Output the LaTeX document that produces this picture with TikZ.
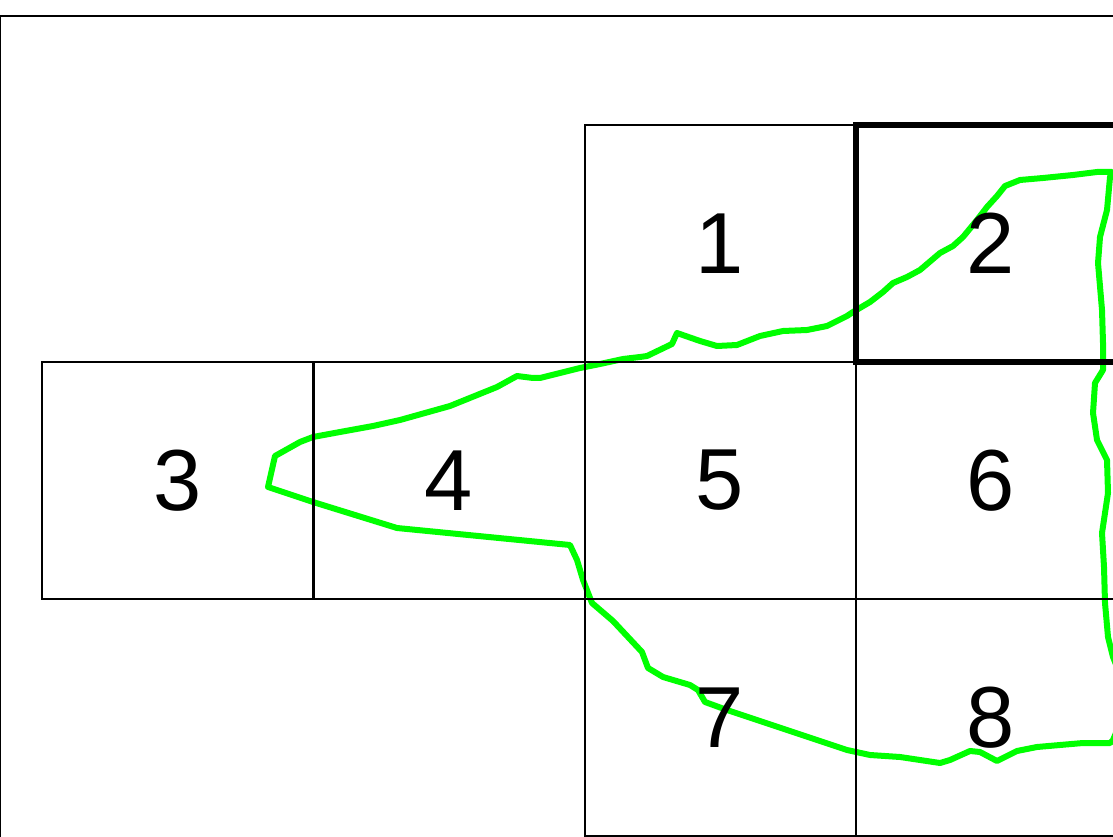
\documentclass[tikz,border=0pt]{standalone}
\usepackage{fontspec}
\setmainfont{Liberation Sans}
\usetikzlibrary{backgrounds}
\definecolor{pgreen}{RGB}{0,255,0}
\tikzset{
  cell/.style={draw=black, line width=1.5pt, minimum width=203.25pt, minimum height=177.75pt,
    inner sep=0pt, font=\fontsize{65}{65}\selectfont},
  thickcell/.style={cell, line width=4.5pt},
  frame/.style={draw=black, line width=1.5pt},
  region/.style={draw=pgreen, line width=4.5pt, line join=round}
}
\begin{document}
\begin{tikzpicture}[x=0.75pt, y=-0.75pt]
\useasboundingbox (0,0) rectangle (1113,837);
\clip (0,0) rectangle (1113,837);
\draw[frame] (0,16) rectangle (1300,1000);
\node[cell] (c1) at (720,243.5) {1};
\node[cell] (c3) at (177.5,480.5) {3};
\node[cell] (c4) at (449,480.5) {4};
\node[cell] (c5) at (720,480.5) {5};
\node[cell] (c6) at (991,480.5) {6};
\node[cell] (c7) at (720,717.5) {7};
\node[cell] (c8) at (991,717.5) {8};
\node[thickcell] (c2) at (991,243.5) {2};
\begin{scope}[on background layer]
\draw[region] (1112,172) -- (1097,172) -- (1073,175) -- (1043,178) -- (1020,180) -- (1005,186)
 -- (997,196) -- (987,207) -- (977,220) -- (963,237) -- (953,246) -- (940,253) -- (920,270)
 -- (907,277) -- (893,283) -- (883,292) -- (870,302) -- (853,312) -- (847,316) -- (827,326)
 -- (807,330) -- (783,331) -- (760,336) -- (737,345) -- (717,346) -- (700,341) -- (677,333)
 -- (672,344) -- (647,356) -- (640,357) -- (623,359) -- (600,364) -- (580,368) -- (540,378)
 -- (533,378) -- (517,376) -- (497,387) -- (450,406) -- (400,420) -- (373,426) -- (340,432)
 -- (313,437) -- (300,442) -- (275,456) -- (268,487) -- (313,502) -- (397,528) -- (570,545)
 -- (577,560) -- (583,580) -- (592,603) -- (613,621) -- (642,652) -- (648,668) -- (663,677)
 -- (690,685) -- (698,690) -- (705,702) -- (727,710) -- (847,750) -- (870,755) -- (900,757)
 -- (940,763) -- (950,760) -- (970,751) -- (980,752) -- (997,761) -- (1017,751) -- (1037,747)
 -- (1083,743) -- (1110,743) -- (1113,740) -- (1130,700) -- (1113,657) -- (1108,637)
 -- (1105,603) -- (1104,567) -- (1102,533) -- (1108,493) -- (1107,460) -- (1097,440)
 -- (1093,413) -- (1095,383) -- (1103,370) -- (1103,343) -- (1102,310) -- (1098,263)
 -- (1100,237) -- (1107,210) -- (1110,177) -- cycle;
\end{scope}
\end{tikzpicture}
\end{document}
